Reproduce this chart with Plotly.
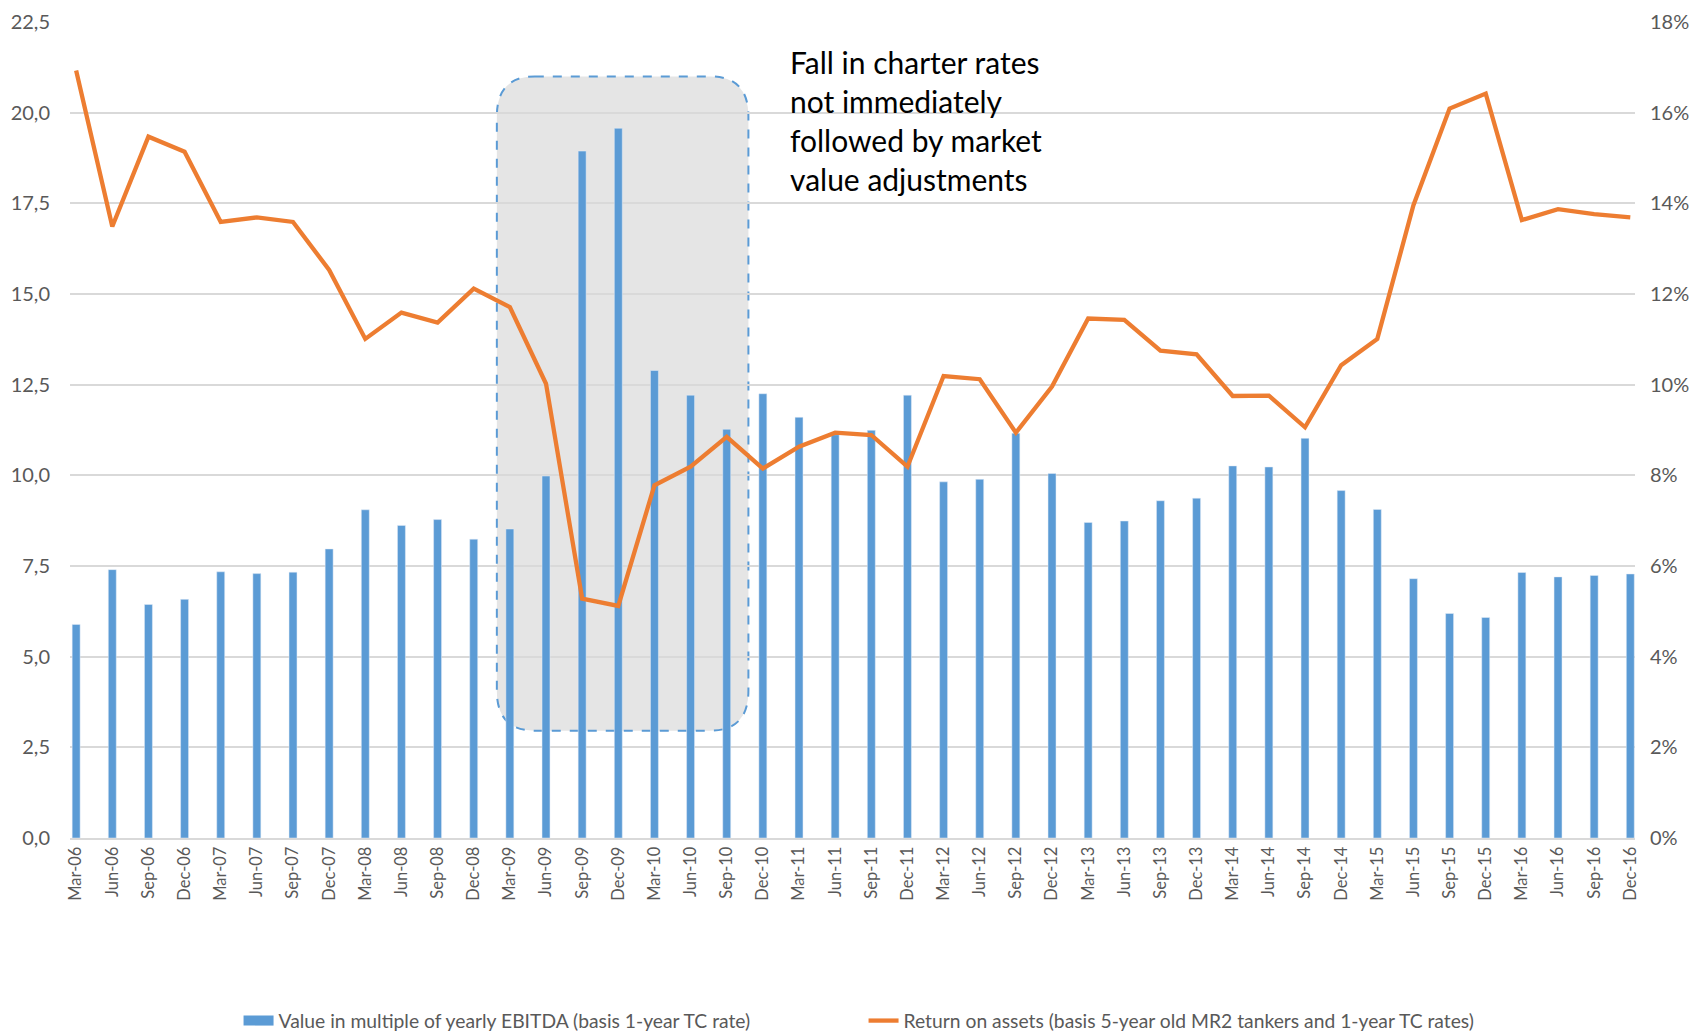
import plotly.graph_objects as go

# quarters Mar-06 .. Dec-16
quarters = []
for yr in range(6, 17):
    for m in ["Mar", "Jun", "Sep", "Dec"]:
        quarters.append(f"{m}-{yr:02d}")

ebitda_multiple = [
    5.89, 7.40, 6.44, 6.58, 7.34, 7.29, 7.33, 7.97,
    9.05, 8.62, 8.78, 8.24, 8.52, 9.98, 18.94, 19.57,
    12.89, 12.21, 11.27, 12.25, 11.60, 11.12, 11.24, 12.21,
    9.82, 9.89, 11.16, 10.05, 8.70, 8.74, 9.30, 9.37,
    10.26, 10.23, 11.02, 9.58, 9.06, 7.15, 6.19, 6.08,
    7.32, 7.20, 7.24, 7.28,
]

return_on_assets = [
    16.93, 13.49, 15.47, 15.14, 13.59, 13.69, 13.59, 12.53,
    11.01, 11.59, 11.37, 12.12, 11.71, 10.02, 5.28, 5.12,
    7.78, 8.19, 8.85, 8.15, 8.63, 8.94, 8.89, 8.19,
    10.19, 10.12, 8.94, 9.96, 11.46, 11.43, 10.75, 10.67,
    9.75, 9.76, 9.06, 10.43, 11.01, 13.96, 16.09, 16.42,
    13.63, 13.87, 13.76, 13.69,
]

left_ticks = [0, 2.5, 5, 7.5, 10, 12.5, 15, 17.5, 20, 22.5]
left_labels = [f"{v:.1f}".replace(".", ",") for v in left_ticks]
right_ticks = list(range(0, 20, 2))
right_labels = [f"{v}%" for v in right_ticks]

BLUE = "#5B9BD5"
ORANGE = "#ED7D31"
GRID = "#D9D9D9"
TXT = "#595959"
FONT = "Lato"

bar_name = "Value in multiple of yearly EBITDA (basis 1-year TC rate)"
line_name = "Return on assets (basis 5-year old MR2 tankers and 1-year TC rates)"

x = list(range(len(quarters)))

fig = go.Figure()
fig.add_trace(go.Bar(
    x=x, y=ebitda_multiple, width=0.22, marker_color=BLUE,
    name=bar_name, showlegend=False,
))
# legend-only entry so the bar key shows as a wide block like the original
fig.add_trace(go.Scatter(
    x=[None], y=[None], mode="lines", line=dict(color=BLUE, width=12),
    name=bar_name,
))
fig.add_trace(go.Scatter(
    x=x, y=return_on_assets, yaxis="y2", mode="lines",
    line=dict(color=ORANGE, width=4.3),
    name=line_name,
))

# rounded dashed highlight box around the 2009-2010 period
x0, x1 = 12 - 0.36, 18 + 0.6
y0, y1 = 2.96, 21.0
rx, ry = 1.05, 1.1
path = (
    f"M {x0+rx},{y1} L {x1-rx},{y1} Q {x1},{y1} {x1},{y1-ry} "
    f"L {x1},{y0+ry} Q {x1},{y0} {x1-rx},{y0} "
    f"L {x0+rx},{y0} Q {x0},{y0} {x0},{y0+ry} "
    f"L {x0},{y1-ry} Q {x0},{y1} {x0+rx},{y1} Z"
)
fig.add_shape(type="path", path=path, xref="x", yref="y", layer="below",
              fillcolor="#E5E5E5", line=dict(color=BLUE, width=2, dash="dash"))

fig.add_annotation(
    x=19.7, y=21.95, xref="x", yref="y", xanchor="left", yanchor="top",
    align="left", showarrow=False,
    text="Fall in charter rates<br>not immediately<br>followed by market<br>value adjustments",
    font=dict(family=FONT, size=30, color="black"),
)

# page body adds an 8px margin, so the figure is 8px smaller than the window
fig.update_layout(
    width=1689, height=1027,
    margin=dict(l=62, r=62, t=14, b=197, autoexpand=False),
    plot_bgcolor="white", paper_bgcolor="white",
    font=dict(family=FONT, color=TXT),
    showlegend=True,
    legend=dict(orientation="h", x=0.1365, xanchor="left", xref="container",
                y=0.0136, yanchor="middle", yref="container",
                font=dict(size=19.3, color=TXT), entrywidth=580, entrywidthmode="pixels"),
    xaxis=dict(
        range=[-0.17, 43.13], tickmode="array", tickvals=x, ticktext=quarters,
        tickangle=-90, tickfont=dict(size=16.5, color=TXT), showgrid=False,
        showline=True, linecolor=GRID, linewidth=2, ticks="", zeroline=False,
        automargin=False,
    ),
    yaxis=dict(
        range=[0, 22.5], tickmode="array", tickvals=left_ticks, ticktext=left_labels,
        tickfont=dict(size=20, color=TXT), gridcolor=GRID, gridwidth=1.5,
        zeroline=False, ticklabelstandoff=19, automargin=False,
    ),
    yaxis2=dict(
        range=[0, 18], overlaying="y", side="right", tickmode="array",
        tickvals=right_ticks, ticktext=right_labels, showgrid=False,
        tickfont=dict(size=20, color=TXT), zeroline=False, ticklabelstandoff=14,
        automargin=False,
    ),
)

fig.write_html("out.html")
